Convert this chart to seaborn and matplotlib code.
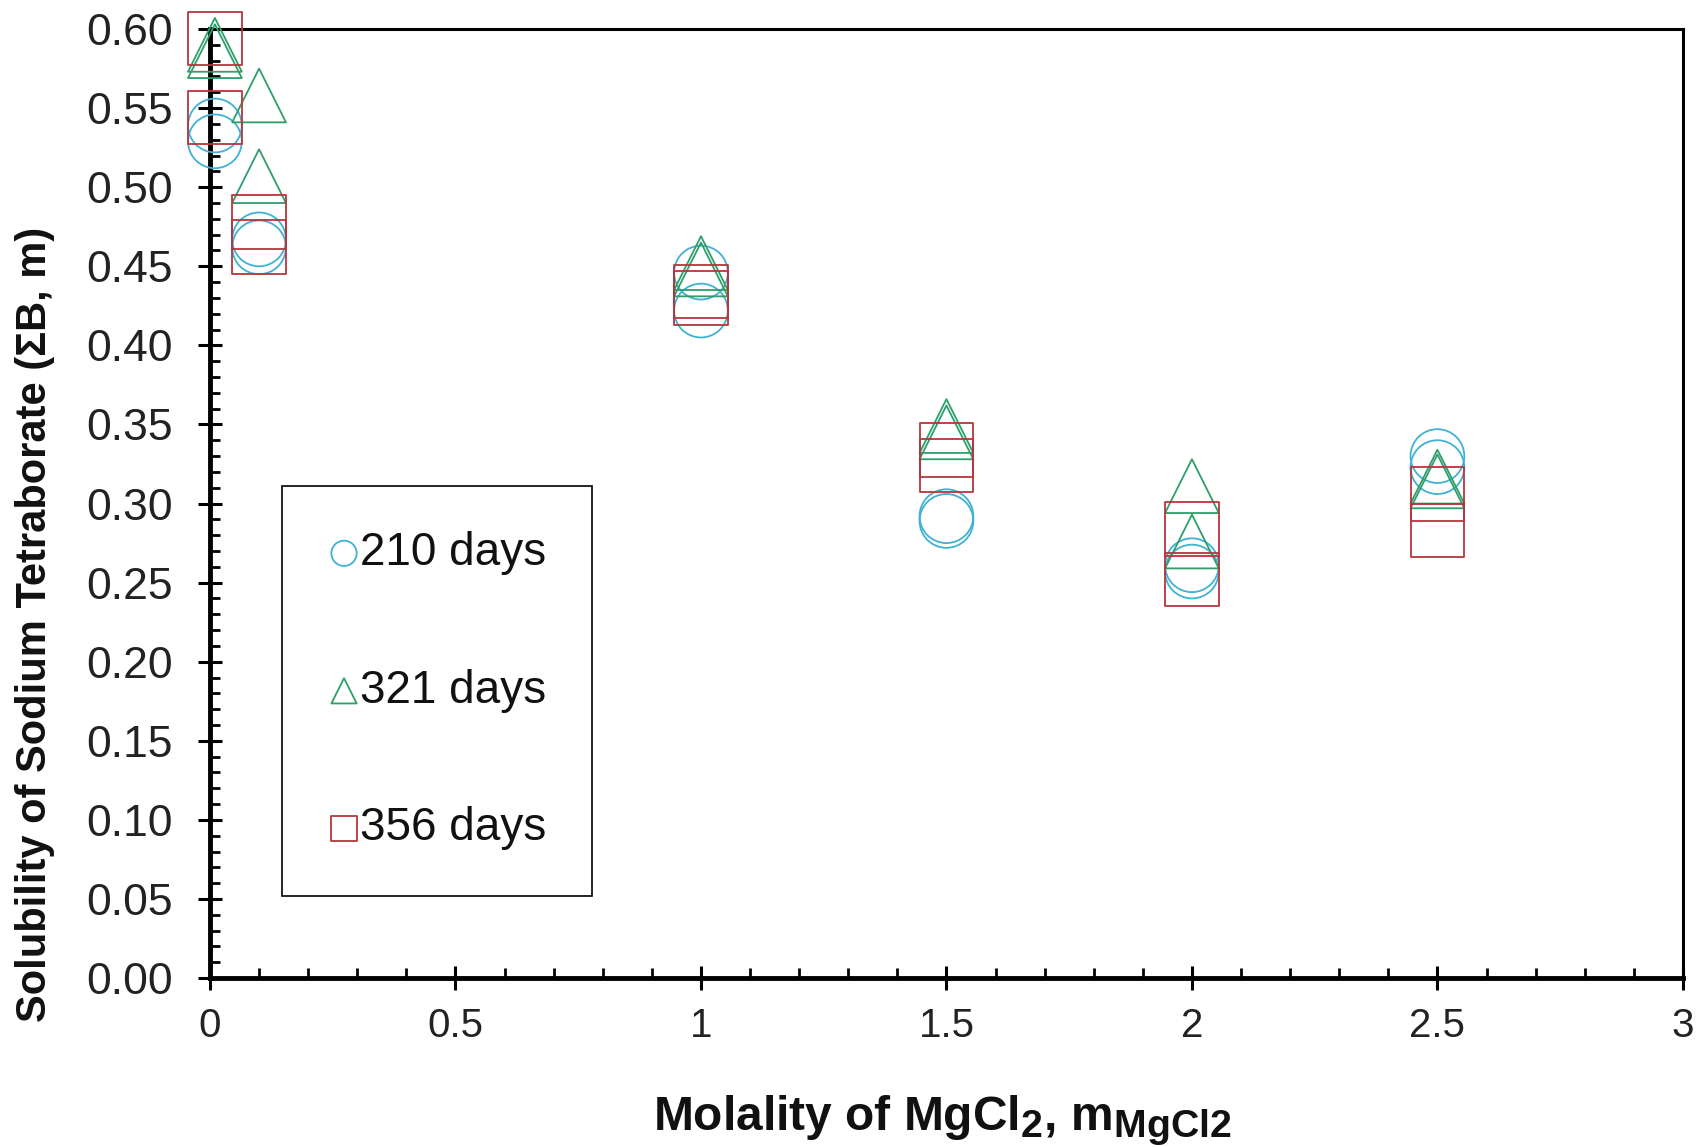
import numpy as np
import pandas as pd
import matplotlib
matplotlib.use("Agg")
import matplotlib.pyplot as plt
import matplotlib._mathtext as _mt
import seaborn as sns
from matplotlib.ticker import MultipleLocator

# ---------------- data ----------------
x_210 = [0.01, 0.01, 0.1, 0.1, 1.0, 1.0, 1.5, 1.5, 2.0, 2.0, 2.5, 2.5]
y_210 = [0.539, 0.529, 0.467, 0.462, 0.446, 0.422, 0.292, 0.289, 0.261, 0.257, 0.330, 0.323]

x_321 = [0.01, 0.01, 0.1, 0.1, 1.0, 1.0, 1.5, 1.5, 2.0, 2.0, 2.5, 2.5]
y_321 = [0.590, 0.586, 0.558, 0.507, 0.452, 0.448, 0.349, 0.345, 0.311, 0.276, 0.317, 0.314]

x_356 = [0.01, 0.01, 0.1, 0.1, 1.0, 1.0, 1.5, 1.5, 2.0, 2.0, 2.5, 2.5]
y_356 = [0.594, 0.544, 0.478, 0.462, 0.434, 0.430, 0.334, 0.324, 0.284, 0.252, 0.306, 0.283]

series_labels = ["210 days", "321 days", "356 days"]
x_ticks = [0, 0.5, 1, 1.5, 2, 2.5, 3]
x_tick_labels = ["0", "0.5", "1", "1.5", "2", "2.5", "3"]
y_ticks = [0.00, 0.05, 0.10, 0.15, 0.20, 0.25, 0.30, 0.35, 0.40, 0.45, 0.50, 0.55, 0.60]
y_tick_labels = ["0.00", "0.05", "0.10", "0.15", "0.20", "0.25", "0.30",
                 "0.35", "0.40", "0.45", "0.50", "0.55", "0.60"]

# ---------------- style ----------------
sns.set_theme(style="white")
FONT = "Liberation Sans"
plt.rcParams["font.family"] = [FONT, "DejaVu Sans"]
plt.rcParams["mathtext.fontset"] = "custom"
plt.rcParams["mathtext.rm"] = FONT + ":bold"
plt.rcParams["mathtext.bf"] = FONT + ":bold"
# slightly larger subscripts, as in the reference
_mt.SHRINK_FACTOR = 0.82

fig = plt.figure(figsize=(17.03, 11.47), dpi=100)
ax = fig.add_axes([0.1233, 0.1473, 0.8649, 0.8274])

styles = [
    (x_210, y_210, "o", "#3FB2D3"),
    (x_321, y_321, "^", "#2E9E6A"),
    (x_356, y_356, "s", "#B8353A"),
]
msize = 1500
for (xs, ys, mk, col), lab in zip(styles, series_labels):
    df = pd.DataFrame({"x": xs, "y": ys})
    sns.scatterplot(data=df, x="x", y="y", marker=mk, s=msize, ax=ax,
                    facecolor="none", edgecolor=col, linewidth=1.3,
                    label=lab, clip_on=False, zorder=3)

ax.set_xlim(0, 3)
ax.set_ylim(0, 0.6)
ax.set_xticks(x_ticks)
ax.set_xticklabels(x_tick_labels, fontsize=29)
ax.set_yticks(y_ticks)
ax.set_yticklabels(y_tick_labels, fontsize=32)
ax.xaxis.set_minor_locator(MultipleLocator(0.1))
ax.yaxis.set_minor_locator(MultipleLocator(0.01))

ax.tick_params(axis="both", which="major", direction="inout", length=17, width=2.2,
               color="black", labelcolor="#222222")
ax.tick_params(axis="x", which="major", pad=12)
ax.tick_params(axis="y", which="major", pad=18)
ax.tick_params(axis="both", which="minor", direction="in", length=7, width=2.0, color="black")
ax.tick_params(axis="x", which="both", bottom=True, top=False)
ax.tick_params(axis="y", which="both", left=True, right=False)

for side in ["left", "bottom"]:
    ax.spines[side].set_linewidth(3.5)
    ax.spines[side].set_color("black")
for side in ["top", "right"]:
    ax.spines[side].set_linewidth(2.2)
    ax.spines[side].set_color("black")
    ax.spines[side].set_visible(True)

ax.set_xlabel(r"Molality of MgCl$\mathrm{_2}$, m$\mathrm{_{MgCl2}}$",
              fontsize=34.5, fontweight="bold", color="#111111")
ax.set_ylabel("Solubility of Sodium Tetraborate (ΣB, m)",
              fontsize=30, fontweight="bold", color="#111111")
ax.xaxis.set_label_coords(0.497, -0.122)
ax.yaxis.set_label_coords(-0.105, 0.373)

leg = ax.legend(loc="upper left", bbox_to_anchor=(0.049, 0.519), frameon=True,
                fancybox=False, edgecolor="black", framealpha=1, borderpad=1.0,
                labelspacing=2.04, handletextpad=0.0, handlelength=0.7,
                markerscale=0.47, fontsize=33, borderaxespad=0)
leg.get_frame().set_linewidth(1.2)
for t in leg.get_texts():
    t.set_color("#111111")

fig.savefig("out.png", dpi=100)
